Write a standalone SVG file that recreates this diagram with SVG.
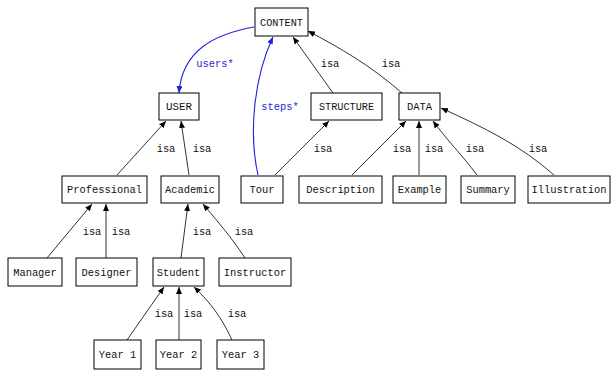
<svg xmlns="http://www.w3.org/2000/svg" width="612" height="373" viewBox="0 0 612 373">
<style>
rect{fill:#fff;stroke:#000;stroke-width:1}
text{font-family:"Liberation Mono","DejaVu Sans Mono",monospace;font-size:10.4px;fill:#111;text-anchor:middle}
.e{fill:none;stroke:#000;stroke-width:0.8}
.b{fill:none;stroke:#2020e0;stroke-width:1.1}
text.bl{fill:#2828d8}
</style>
<defs>
<marker id="ah" markerUnits="userSpaceOnUse" markerWidth="8" markerHeight="6" refX="7" refY="3" orient="auto"><path d="M0,0 L7,3 L0,6 Z" fill="#000"/></marker>
<marker id="ab" markerUnits="userSpaceOnUse" markerWidth="8" markerHeight="6" refX="7" refY="3" orient="auto"><path d="M0,0 L7,3 L0,6 Z" fill="#2020e0"/></marker>
</defs>
<g id="connectors">
<path class="b" d="M254,27 C215,34 182,50 179,93" marker-end="url(#ab)"/>
<path class="b" d="M258,175 C248,130 255,75 273,37" marker-end="url(#ab)"/>
<path class="e" d="M333,93 L293,37" marker-end="url(#ah)"/>
<path class="e" d="M402,93 C370,65 340,48 308,31" marker-end="url(#ah)"/>
<path class="e" d="M117,175 L166,121" marker-end="url(#ah)"/>
<path class="e" d="M189,175 L181,121" marker-end="url(#ah)"/>
<path class="e" d="M275,175 L329,121" marker-end="url(#ah)"/>
<path class="e" d="M352,175 L406,121" marker-end="url(#ah)"/>
<path class="e" d="M419,175 L419,121" marker-end="url(#ah)"/>
<path class="e" d="M477,175 C462,155 447,140 433,121" marker-end="url(#ah)"/>
<path class="e" d="M554,175 C520,145 485,128 441,108" marker-end="url(#ah)"/>
<path class="e" d="M47,258 L92,204" marker-end="url(#ah)"/>
<path class="e" d="M106,258 L106,204" marker-end="url(#ah)"/>
<path class="e" d="M181,258 L188,204" marker-end="url(#ah)"/>
<path class="e" d="M245,258 C232,238 218,222 203,204" marker-end="url(#ah)"/>
<path class="e" d="M127,340 L164,287" marker-end="url(#ah)"/>
<path class="e" d="M179,340 L179,287" marker-end="url(#ah)"/>
<path class="e" d="M232,340 C222,318 210,302 194,287" marker-end="url(#ah)"/>
</g>
<g id="labels">
<text class="bl" x="215" y="67">users*</text>
<text class="bl" x="280" y="110">steps*</text>
<text x="330" y="67">isa</text>
<text x="391" y="67">isa</text>
<text x="166" y="152">isa</text>
<text x="202" y="152">isa</text>
<text x="323" y="152">isa</text>
<text x="402" y="152">isa</text>
<text x="434" y="152">isa</text>
<text x="475" y="152">isa</text>
<text x="538" y="152">isa</text>
<text x="92" y="235">isa</text>
<text x="121" y="235">isa</text>
<text x="202" y="235">isa</text>
<text x="244" y="235">isa</text>
<text x="164" y="317">isa</text>
<text x="193" y="317">isa</text>
<text x="237" y="317">isa</text>
</g>
<g id="CONTENT"><rect x="255" y="8" width="53" height="28"/><text x="281.5" y="25.5" textLength="43" lengthAdjust="spacingAndGlyphs">CONTENT</text></g>
<g id="USER"><rect x="159" y="93" width="40" height="27"/><text x="179" y="110" textLength="26" lengthAdjust="spacingAndGlyphs">USER</text></g>
<g id="STRUCTURE"><rect x="311" y="93" width="71" height="27"/><text x="346.5" y="110" textLength="55" lengthAdjust="spacingAndGlyphs">STRUCTURE</text></g>
<g id="DATA"><rect x="399" y="93" width="41" height="27"/><text x="419.5" y="110" textLength="25" lengthAdjust="spacingAndGlyphs">DATA</text></g>
<g id="Professional"><rect x="62" y="176" width="85" height="27"/><text x="104.5" y="193">Professional</text></g>
<g id="Academic"><rect x="161" y="176" width="58" height="27"/><text x="190" y="193">Academic</text></g>
<g id="Tour"><rect x="241" y="176" width="42" height="27"/><text x="262" y="193">Tour</text></g>
<g id="Description"><rect x="299" y="176" width="83" height="27"/><text x="340.5" y="193">Description</text></g>
<g id="Example"><rect x="393" y="176" width="53" height="27"/><text x="419.5" y="193">Example</text></g>
<g id="Summary"><rect x="461" y="176" width="54" height="27"/><text x="488" y="193">Summary</text></g>
<g id="Illustration"><rect x="528" y="176" width="82" height="27"/><text x="569" y="193">Illustration</text></g>
<g id="Manager"><rect x="8" y="258" width="54" height="28"/><text x="35" y="275.5">Manager</text></g>
<g id="Designer"><rect x="76" y="258" width="61" height="28"/><text x="106.5" y="275.5">Designer</text></g>
<g id="Student"><rect x="153" y="258" width="51" height="28"/><text x="178.5" y="275.5">Student</text></g>
<g id="Instructor"><rect x="219" y="258" width="72" height="28"/><text x="255" y="275.5">Instructor</text></g>
<g id="Year1"><rect x="94" y="340" width="47" height="29"/><text x="117.5" y="358">Year 1</text></g>
<g id="Year2"><rect x="156" y="340" width="45" height="29"/><text x="178.5" y="358">Year 2</text></g>
<g id="Year3"><rect x="217" y="340" width="47" height="29"/><text x="240.5" y="358">Year 3</text></g>
</svg>
